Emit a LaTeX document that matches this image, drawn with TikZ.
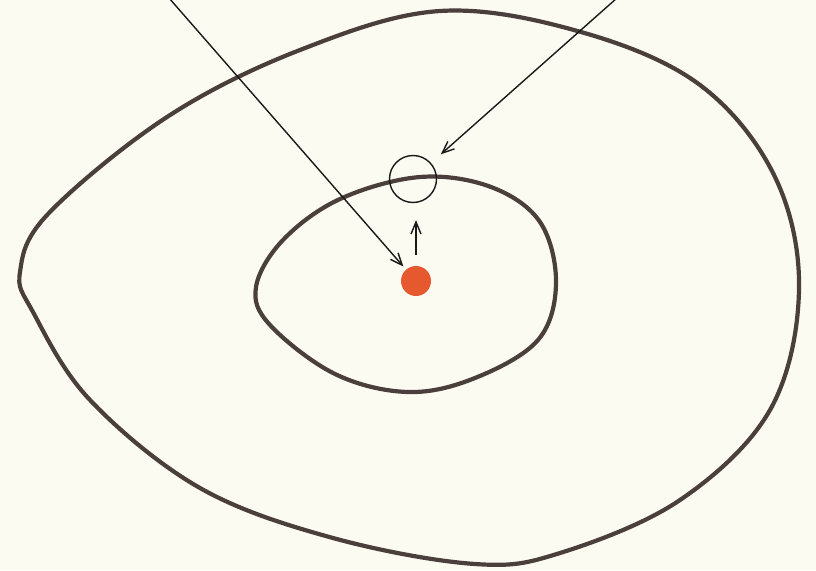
\documentclass[tikz,border=0pt]{standalone}
\usetikzlibrary{arrows.meta}
\definecolor{paper}{HTML}{FCFBF2}
\definecolor{ink}{HTML}{4A3F3B}
\definecolor{dotred}{HTML}{E6582E}
\begin{document}
\begin{tikzpicture}[x=1pt,y=-1pt,
  orbit/.style={draw=ink,line width=4.2pt,line join=round},
  thin/.style={draw=black!90,line width=1.4pt},
  ptr/.style={thin,-{Straight Barb[length=12pt,width=10pt,line width=1.4pt]}}]
\fill[paper] (0,0) rectangle (816,570);
\useasboundingbox (0,0) rectangle (816,570);
% outer orbit
\draw[orbit] plot[smooth cycle,tension=0.6] coordinates{
 (20,272) (48,214) (167,117) (300,50) (440,11) (581,32) (700,85)
 (775,177) (799,290) (770,410) (680,500) (560,553) (475,564)
 (333,538) (200,488) (90,400) (33,312)};
% inner orbit
\draw[orbit] plot[smooth cycle,tension=0.6] coordinates{
 (256,287) (283,240) (340,199) (420,177) (491,187) (540,222)
 (556,283) (538,340) (475,378) (408,392) (335,374) (270,325)};
% red dot and small ring
\node[circle,fill=dotred,minimum size=30pt,inner sep=0pt] (dot) at (416,281) {};
\node[circle,thin,minimum size=47pt,inner sep=0pt] (ring) at (413,179) {};
% pointers
\coordinate (la) at (169,-2);
\coordinate (ra) at (617,-2);
\draw[ptr,shorten >=4pt] (la) -- (dot);
\draw[ptr,shorten >=13pt] (ra) -- (ring);
\draw[ptr,shorten <=11pt,shorten >=17pt] (dot.north) -- (dot.north |- ring.south);
\end{tikzpicture}
\end{document}
